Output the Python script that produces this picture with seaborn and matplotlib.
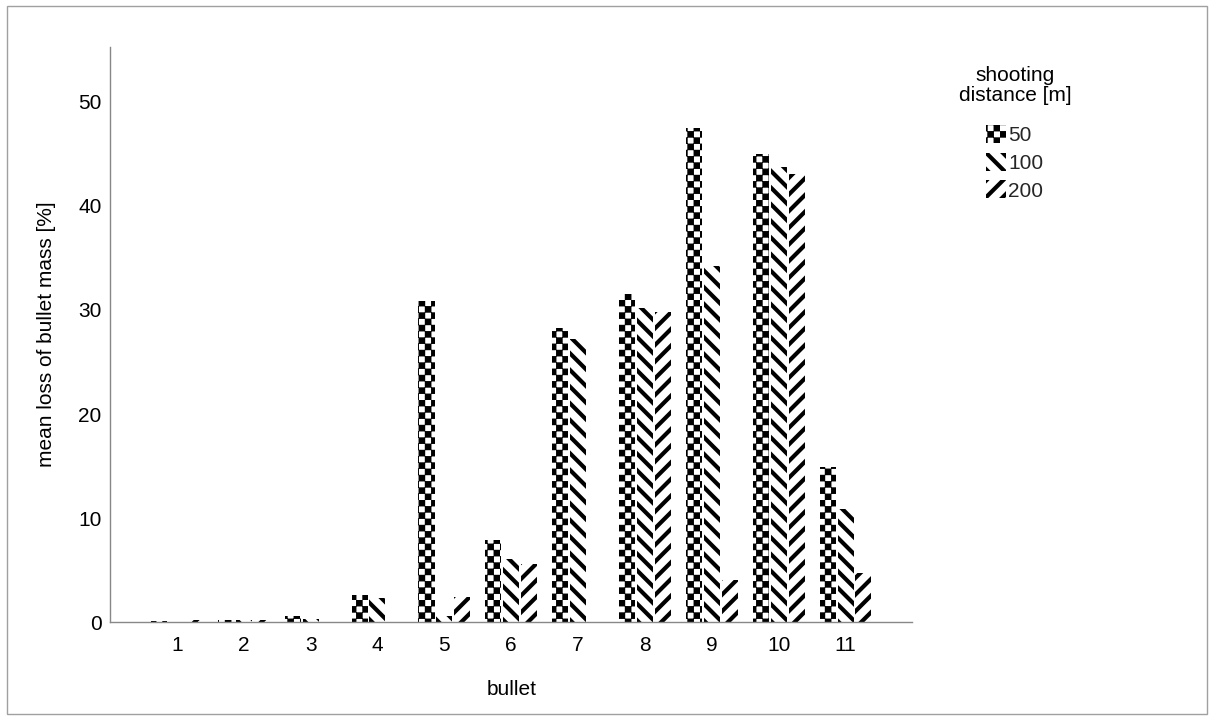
import warnings
import numpy as np
import pandas as pd
import matplotlib
matplotlib.use('Agg')
import matplotlib.pyplot as plt
import seaborn as sns
from matplotlib import hatch as mhatch
from matplotlib.path import Path
from matplotlib.patches import Patch, Rectangle

warnings.filterwarnings('ignore')

bullets = ['1', '2', '3', '4', '5', '6', '7', '8', '9', '10', '11']
distances = ['50', '100', '200']
loss_50 = [0.15, 0.2, 0.6, 2.6, 30.9, 7.9, 28.3, 31.5, 47.5, 45.0, 14.9]
loss_100 = [0.0, 0.2, 0.3, 2.3, 0.6, 6.1, 27.2, 30.2, 34.2, 43.7, 10.9]
loss_200 = [0.2, 0.2, 0.0, 0.0, 2.4, 5.6, 0.0, 29.8, 4.0, 43.1, 4.7]
hatches = ['c', '\\\\', '//']

HATCH_LW = 3.0  # points
DPI = 100


# checkerboard hatch ('c') - matplotlib has no built-in one
class CheckerHatch(mhatch.HatchPatternBase):
    def __init__(self, hatch, density):
        self.n = 16 if 'c' in hatch else 0
        self.num_vertices = self.n * self.n // 2 * 5

    def set_vertices_and_codes(self, vertices, codes):
        s = 1.0 / self.n
        w = HATCH_LW / 72.0  # stroke width in tile units
        c = s - w + 0.004
        k = 0
        for i in range(self.n):
            for j in range(self.n):
                if (i + j) % 2:
                    continue
                x0, y0 = i * s + (s - c) / 2, j * s + (s - c) / 2
                vertices[k:k + 5] = [(x0, y0), (x0 + c, y0), (x0 + c, y0 + c),
                                     (x0, y0 + c), (x0, y0)]
                codes[k:k + 5] = [Path.MOVETO, Path.LINETO, Path.LINETO,
                                  Path.LINETO, Path.CLOSEPOLY]
                k += 5


mhatch._hatch_types.append(CheckerHatch)

df = pd.DataFrame({
    'bullet': bullets * 3,
    'distance': [d for d in distances for _ in bullets],
    'loss': loss_50 + loss_100 + loss_200,
})

sns.set_style('white')
plt.rcParams['font.family'] = ['Liberation Sans', 'DejaVu Sans']
plt.rcParams['hatch.linewidth'] = HATCH_LW

fig = plt.figure(figsize=(12.14, 7.2), dpi=DPI)
ax = fig.add_axes([0.0906, 0.136, 0.661, 0.799])

sns.barplot(data=df, x='bullet', y='loss', hue='distance', order=bullets,
            hue_order=distances, palette=['white'] * 3, saturation=1,
            width=0.8, gap=0.1, errorbar=None, legend=False, ax=ax)

for cont, h in zip(ax.containers, hatches):
    for bar in cont:
        bar.set_facecolor('white')
        bar.set_edgecolor('black')
        bar.set_linewidth(0)
        bar.set_hatch(h)

ax.set_xlim(-1, 11)
ax.set_ylim(0, 55.3)
ax.set_yticks([0, 10, 20, 30, 40, 50])
ax.tick_params(length=0, labelsize=15, colors='black')
ax.tick_params(axis='x', pad=10)
ax.tick_params(axis='y', pad=6)
for side in ['top', 'right']:
    ax.spines[side].set_visible(False)
for side in ['left', 'bottom']:
    ax.spines[side].set_color('#888888')
    ax.spines[side].set_linewidth(1)
ax.set_xlabel('bullet', fontsize=15, labelpad=18, color='black')
ax.set_ylabel('mean loss of bullet mass [%]', fontsize=15, labelpad=16, color='black')

# legend title as plain text, entries below it
fig.text(0.836, 1 - 66 / 720, 'shooting\ndistance [m]', ha='center', va='top',
         fontsize=15, linespacing=1.05, color='black')
handles = [Patch(facecolor='white', edgecolor='black', linewidth=0, hatch=h, label=d)
           for h, d in zip(hatches, distances)]
fig.legend(handles=handles, loc='upper center', bbox_to_anchor=(0.836, 1 - 106 / 720),
           frameon=False, handlelength=0.95, handleheight=0.95, handletextpad=0.1,
           labelspacing=0.37, prop={'size': 15})

# thin grey frame round the whole picture
fig.add_artist(Rectangle((0.006, 0.008), 0.988, 0.984, transform=fig.transFigure,
                         fill=False, edgecolor='#a0a0a0', linewidth=1))

fig.savefig('out.png', dpi=DPI)
